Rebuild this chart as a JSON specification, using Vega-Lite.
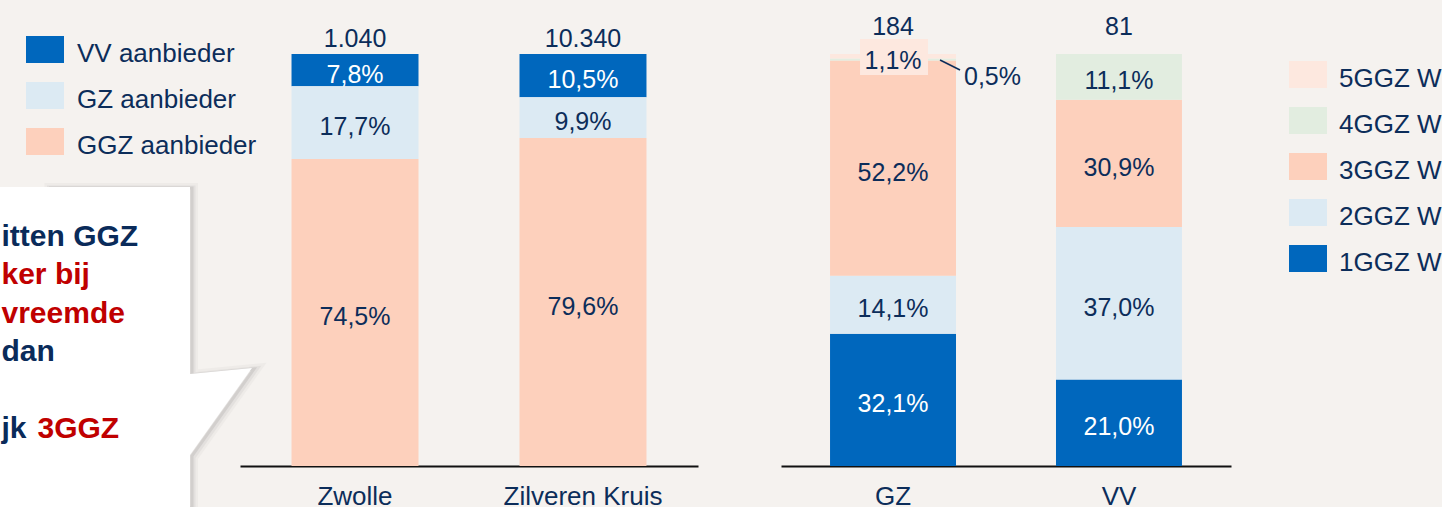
{
  "$schema": "https://vega.github.io/schema/vega-lite/v6.json",
  "background": "#f5f2ef",
  "padding": 0,
  "bounds": "flush",
  "spacing": 83,
  "config": {
    "font": "Liberation Sans",
    "view": {"stroke": null},
    "locale": {"number": {"decimal": ",", "thousands": ".", "grouping": [3], "currency": ["€", ""]}}
  },
  "datasets": {
    "callout": [
      {"line": 1, "seq": 1, "text": "itten GGZ", "highlight": false},
      {"line": 2, "seq": 1, "text": "ker bij", "highlight": true},
      {"line": 3, "seq": 1, "text": "vreemde", "highlight": true},
      {"line": 4, "seq": 1, "text": "dan", "highlight": false},
      {"line": 6, "seq": 1, "text": "jk", "highlight": false},
      {"line": 6, "seq": 2, "text": "3GGZ", "highlight": true}
    ],
    "left": [
      {"cat": "Zwolle", "seg": "VV aanbieder", "pct": 0.078},
      {"cat": "Zwolle", "seg": "GZ aanbieder", "pct": 0.177},
      {"cat": "Zwolle", "seg": "GGZ aanbieder", "pct": 0.745},
      {"cat": "Zilveren Kruis", "seg": "VV aanbieder", "pct": 0.105},
      {"cat": "Zilveren Kruis", "seg": "GZ aanbieder", "pct": 0.099},
      {"cat": "Zilveren Kruis", "seg": "GGZ aanbieder", "pct": 0.796}
    ],
    "leftTotals": [
      {"cat": "Zwolle", "n": 1040},
      {"cat": "Zilveren Kruis", "n": 10340}
    ],
    "right": [
      {"cat": "GZ", "seg": "1GGZ W", "pct": 0.321},
      {"cat": "GZ", "seg": "2GGZ W", "pct": 0.141},
      {"cat": "GZ", "seg": "3GGZ W", "pct": 0.522},
      {"cat": "GZ", "seg": "4GGZ W", "pct": 0.005},
      {"cat": "GZ", "seg": "5GGZ W", "pct": 0.011},
      {"cat": "VV", "seg": "1GGZ W", "pct": 0.210},
      {"cat": "VV", "seg": "2GGZ W", "pct": 0.370},
      {"cat": "VV", "seg": "3GGZ W", "pct": 0.309},
      {"cat": "VV", "seg": "4GGZ W", "pct": 0.111},
      {"cat": "VV", "seg": "5GGZ W", "pct": 0.0}
    ],
    "rightTotals": [
      {"cat": "GZ", "n": 184},
      {"cat": "VV", "n": 81}
    ]
  },
  "resolve": {"scale": {"color": "independent"}, "legend": {"color": "independent"}},
  "hconcat": [
    {
      "width": 157,
      "height": 507,
      "layer": [
        {"data": {"values": [{}]}, "mark": {"type": "point", "shape": "M-30,-66.5H111.5V120.5L173.5,114.5L111.5,201.5V253.5H-30Z", "size": 4, "filled": false, "stroke": "#000000", "strokeWidth": 12, "opacity": 0.025, "xOffset": 2, "yOffset": 2}, "encoding": {}},
        {"data": {"values": [{}]}, "mark": {"type": "point", "shape": "M-30,-66.5H111.5V120.5L173.5,114.5L111.5,201.5V253.5H-30Z", "size": 4, "filled": false, "stroke": "#000000", "strokeWidth": 7, "opacity": 0.04, "xOffset": 2, "yOffset": 2}, "encoding": {}},
        {"data": {"values": [{}]}, "mark": {"type": "point", "shape": "M-30,-66.5H111.5V120.5L173.5,114.5L111.5,201.5V253.5H-30Z", "size": 4, "filled": false, "stroke": "#000000", "strokeWidth": 3, "opacity": 0.07, "xOffset": 2, "yOffset": 1}, "encoding": {}},
        {"data": {"values": [{}]}, "mark": {"type": "point", "shape": "M-78.5,-66.5H111.5V120.5L173.5,114.5L111.5,201.5V253.5H-78.5Z", "size": 4, "filled": true, "fill": "#ffffff", "strokeWidth": 0, "opacity": 1}, "encoding": {}},
        {
          "data": {"name": "callout"},
          "transform": [{"filter": "datum.seq == 1"}],
          "mark": {"type": "text", "align": "left", "baseline": "alphabetic", "fontSize": 30, "fontWeight": "bold", "dx": -77},
          "encoding": {
            "y": {"field": "line", "type": "quantitative", "scale": {"domain": [-5.406, 7.797], "reverse": true, "nice": false, "zero": false}, "axis": null},
            "text": {"field": "text"},
            "color": {"condition": {"test": "datum.highlight", "value": "#c00000"}, "value": "#0a2b5a"}
          }
        },
        {
          "data": {"name": "callout"},
          "transform": [{"filter": "datum.seq == 2"}],
          "mark": {"type": "text", "align": "left", "baseline": "alphabetic", "fontSize": 30, "fontWeight": "bold", "dx": -41},
          "encoding": {
            "y": {"field": "line", "type": "quantitative"},
            "text": {"field": "text"},
            "color": {"condition": {"test": "datum.highlight", "value": "#c00000"}, "value": "#0a2b5a"}
          }
        }
      ]
    },
    {
      "width": 458,
      "height": 466,
      "layer": [
        {
          "data": {"name": "left"},
          "transform": [
            {"stack": "pct", "groupby": ["cat"], "sort": [{"field": "seg", "order": "ascending"}], "as": ["y0", "y1"]}
          ],
          "mark": {"type": "bar"},
          "encoding": {
            "x": {"field": "cat", "type": "nominal", "sort": ["Zwolle", "Zilveren Kruis"], "scale": {"paddingInner": 0.443, "paddingOuter": 0.226},
              "axis": {"title": null, "labelAngle": 0, "labelFontSize": 26, "labelColor": "#0c2d5a", "labelPadding": 17, "ticks": false, "tickSize": 0, "domainColor": "#111111", "domainWidth": 2, "grid": false}},
            "y": {"field": "y0", "type": "quantitative", "scale": {"domain": [0, 1.1311], "nice": false}, "axis": null},
            "y2": {"field": "y1"},
            "color": {"field": "seg", "type": "nominal",
              "scale": {"domain": ["VV aanbieder", "GZ aanbieder", "GGZ aanbieder"], "range": ["#0067bd", "#dceaf3", "#fdd0bc"]},
              "legend": {"orient": "none", "direction": "vertical", "legendX": -214, "legendY": 35, "title": null, "symbolType": "M-1,-0.947H1V0.474H-1Z", "symbolSize": 1444, "symbolStrokeWidth": 0, "labelFontSize": 26, "labelColor": "#0c2d5a", "labelOffset": 13, "rowPadding": 14, "padding": 0, "labelLimit": 400}}
          }
        },
        {
          "data": {"name": "left"},
          "transform": [
            {"stack": "pct", "groupby": ["cat"], "sort": [{"field": "seg", "order": "ascending"}], "as": ["y0", "y1"]},
            {"calculate": "(datum.y0 + datum.y1) / 2", "as": "ymid"}
          ],
          "mark": {"type": "text", "baseline": "middle", "fontSize": 25, "dy": 4.5},
          "encoding": {
            "x": {"field": "cat", "type": "nominal", "sort": ["Zwolle", "Zilveren Kruis"]},
            "y": {"field": "ymid", "type": "quantitative"},
            "text": {"field": "pct", "type": "quantitative", "format": ".1%"},
            "color": {"condition": {"test": "datum.seg === 'VV aanbieder'", "value": "#ffffff"}, "value": "#0c2d5a"}
          }
        },
        {
          "data": {"name": "leftTotals"},
          "mark": {"type": "text", "baseline": "middle", "fontSize": 25, "dy": -15.5, "color": "#0c2d5a"},
          "encoding": {
            "x": {"field": "cat", "type": "nominal", "sort": ["Zwolle", "Zilveren Kruis"]},
            "y": {"datum": 1, "type": "quantitative"},
            "text": {"field": "n", "type": "quantitative", "format": ",d"}
          }
        }
      ]
    },
    {
      "width": 450,
      "height": 466,
      "layer": [
        {
          "data": {"name": "right"},
          "transform": [
            {"stack": "pct", "groupby": ["cat"], "sort": [{"field": "seg", "order": "ascending"}], "as": ["y0", "y1"]}
          ],
          "mark": {"type": "bar"},
          "encoding": {
            "x": {"field": "cat", "type": "nominal", "sort": ["GZ", "VV"], "scale": {"paddingInner": 0.4425, "paddingOuter": 0.217},
              "axis": {"title": null, "labelAngle": 0, "labelFontSize": 26, "labelColor": "#0c2d5a", "labelPadding": 17, "ticks": false, "tickSize": 0, "domainColor": "#111111", "domainWidth": 2, "grid": false}},
            "y": {"field": "y0", "type": "quantitative", "scale": {"domain": [0, 1.1311], "nice": false}, "axis": null},
            "y2": {"field": "y1"},
            "color": {"field": "seg", "type": "nominal",
              "scale": {"domain": ["5GGZ W", "4GGZ W", "3GGZ W", "2GGZ W", "1GGZ W"], "range": ["#fde8df", "#e2ede0", "#fdd0bc", "#dceaf3", "#0067bd"]},
              "legend": {"orient": "none", "direction": "vertical", "legendX": 508, "legendY": 60, "title": null, "symbolType": "M-1,-0.947H1V0.474H-1Z", "symbolSize": 1444, "symbolStrokeWidth": 0, "labelFontSize": 26, "labelColor": "#0c2d5a", "labelOffset": 12, "rowPadding": 14, "padding": 0, "labelLimit": 400}}
          }
        },
        {
          "data": {"name": "right"},
          "transform": [
            {"stack": "pct", "groupby": ["cat"], "sort": [{"field": "seg", "order": "ascending"}], "as": ["y0", "y1"]},
            {"calculate": "(datum.y0 + datum.y1) / 2", "as": "ymid"},
            {"filter": "datum.pct >= 0.05"}
          ],
          "mark": {"type": "text", "baseline": "middle", "fontSize": 25, "dy": 4.5},
          "encoding": {
            "x": {"field": "cat", "type": "nominal", "sort": ["GZ", "VV"]},
            "y": {"field": "ymid", "type": "quantitative"},
            "text": {"field": "pct", "type": "quantitative", "format": ".1%"},
            "color": {"condition": {"test": "datum.seg === '1GGZ W'", "value": "#ffffff"}, "value": "#0c2d5a"}
          }
        },
        {
          "data": {"name": "right"},
          "transform": [
            {"stack": "pct", "groupby": ["cat"], "sort": [{"field": "seg", "order": "ascending"}], "as": ["y0", "y1"]},
            {"filter": "datum.cat === 'GZ' && datum.seg === '5GGZ W'"}
          ],
          "mark": {"type": "point", "shape": "M-34,-18H34V18H-34Z", "size": 4, "filled": true, "fill": "#fde8df", "strokeWidth": 0, "opacity": 1, "xOffset": 1, "yOffset": 3},
          "encoding": {
            "x": {"field": "cat", "type": "nominal", "sort": ["GZ", "VV"]},
            "y": {"field": "y1", "type": "quantitative"}
          }
        },
        {
          "data": {"name": "right"},
          "transform": [
            {"stack": "pct", "groupby": ["cat"], "sort": [{"field": "seg", "order": "ascending"}], "as": ["y0", "y1"]},
            {"filter": "datum.cat === 'GZ' && datum.seg === '5GGZ W'"}
          ],
          "mark": {"type": "text", "baseline": "middle", "fontSize": 25, "dy": 6.5, "color": "#0c2d5a"},
          "encoding": {
            "x": {"field": "cat", "type": "nominal", "sort": ["GZ", "VV"]},
            "y": {"field": "y1", "type": "quantitative"},
            "text": {"field": "pct", "type": "quantitative", "format": ".1%"}
          }
        },
        {
          "data": {"name": "right"},
          "transform": [
            {"stack": "pct", "groupby": ["cat"], "sort": [{"field": "seg", "order": "ascending"}], "as": ["y0", "y1"]},
            {"calculate": "(datum.y0 + datum.y1) / 2", "as": "ymid"},
            {"filter": "datum.cat === 'GZ' && datum.seg === '4GGZ W'"}
          ],
          "mark": {"type": "text", "align": "left", "baseline": "middle", "fontSize": 25, "dx": 71, "dy": 17, "color": "#0c2d5a"},
          "encoding": {
            "x": {"field": "cat", "type": "nominal", "sort": ["GZ", "VV"]},
            "y": {"field": "ymid", "type": "quantitative"},
            "text": {"field": "pct", "type": "quantitative", "format": ".1%"}
          }
        },
        {
          "data": {"name": "right"},
          "transform": [
            {"stack": "pct", "groupby": ["cat"], "sort": [{"field": "seg", "order": "ascending"}], "as": ["y0", "y1"]},
            {"calculate": "(datum.y0 + datum.y1) / 2", "as": "ymid"},
            {"filter": "datum.cat === 'GZ' && datum.seg === '4GGZ W'"}
          ],
          "mark": {"type": "point", "shape": "M47,0.4L67,10.4", "size": 4, "filled": false, "stroke": "#0c2d5a", "strokeWidth": 1.5, "opacity": 1},
          "encoding": {
            "x": {"field": "cat", "type": "nominal", "sort": ["GZ", "VV"]},
            "y": {"field": "ymid", "type": "quantitative"}
          }
        },
        {
          "data": {"name": "rightTotals"},
          "mark": {"type": "text", "baseline": "middle", "fontSize": 25, "dy": -27.5, "color": "#0c2d5a"},
          "encoding": {
            "x": {"field": "cat", "type": "nominal", "sort": ["GZ", "VV"]},
            "y": {"datum": 1, "type": "quantitative"},
            "text": {"field": "n", "type": "quantitative", "format": ",d"}
          }
        }
      ]
    }
  ]
}
